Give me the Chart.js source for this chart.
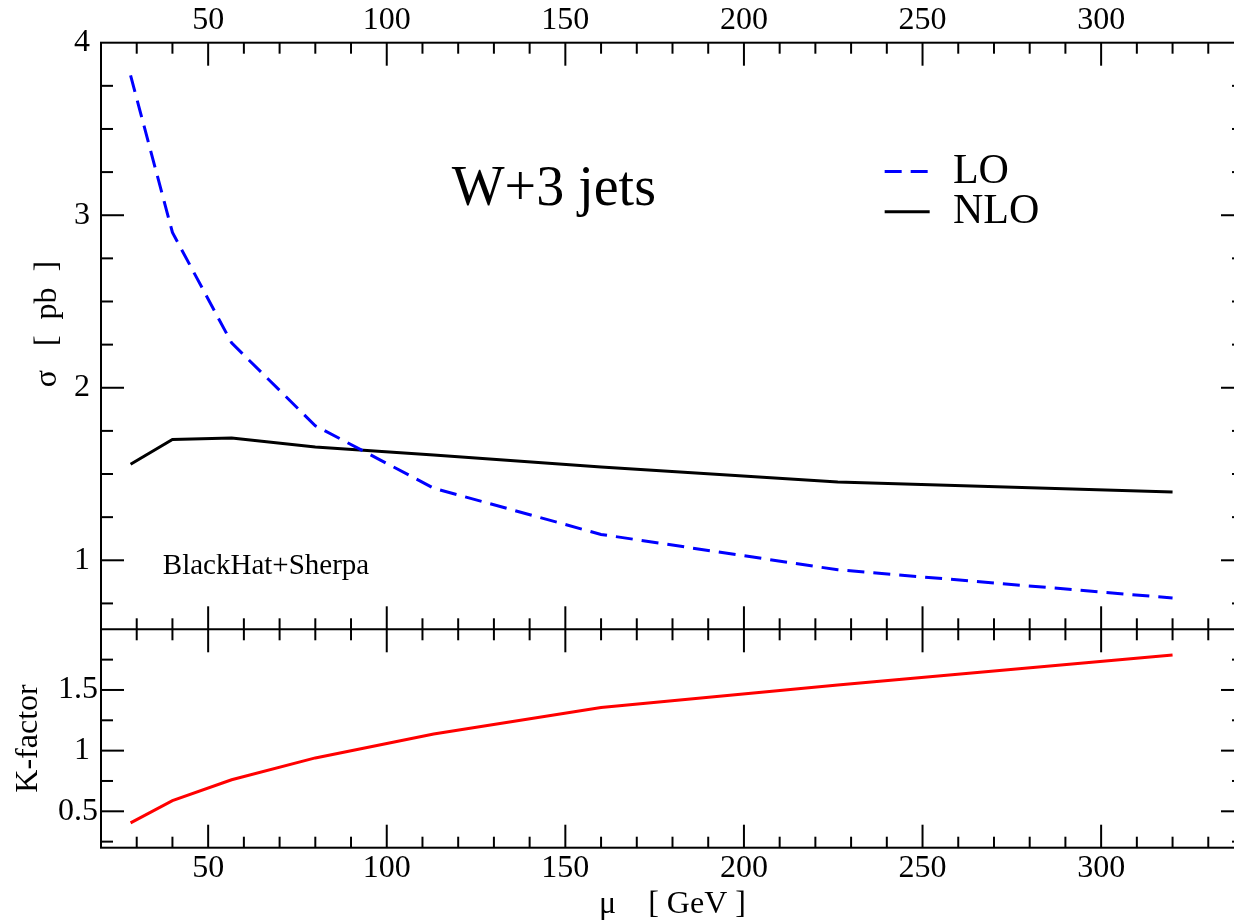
<!DOCTYPE html>
<html><head><meta charset="utf-8">
<script src="https://cdn.jsdelivr.net/npm/chart.js@4"></script>
<style>
html,body{margin:0;padding:0;overflow:hidden;background:#fff;width:1234px;height:924px}
#wrap{position:absolute;left:0;top:0;width:1260px;height:924px}
</style></head>
<body><div id="wrap"><canvas id="c" width="1260" height="924"></canvas></div>
<script>
// scale mu [GeV]
const mu = [28.28, 40, 56.57, 80, 113.14, 160, 226.27, 320];
const loValues = [3.81, 2.90, 2.26, 1.78, 1.418, 1.15, 0.945, 0.781];
const nloValues = [1.557, 1.70, 1.709, 1.657, 1.61, 1.541, 1.454, 1.396];
const kValues = [0.405, 0.588, 0.76, 0.94, 1.137, 1.356, 1.54, 1.788];
const xTicks = [50, 100, 150, 200, 250, 300];
const sigmaTicks = [1, 2, 3, 4];
const kTicks = [0.5, 1, 1.5];
const seriesLabels = ['LO', 'NLO'];

const F = "'Liberation Serif', 'Times New Roman', serif";
const X_MIN = 20, X_MAX = 340, X_MINOR = 10;
const Y_MIN = 0.6, Y_MAX = 4, K_MIN = 0.2, K_MAX = 2.0, Y_MINOR = 0.25;

function pts(ys){ return mu.map((m,i)=>({x:m, y:ys[i]})); }

const framePlugin = {
  id: 'frame',
  afterDatasetsDraw(chart){
    const {ctx, chartArea:a, scales} = chart;
    const x = scales.x, y = scales.y, k = scales.yK;
    const sep = y.bottom;
    ctx.save();
    ctx.strokeStyle = '#000'; ctx.lineWidth = 2; ctx.lineCap = 'butt';
    const L = (x1,y1,x2,y2)=>{ctx.beginPath();ctx.moveTo(x1,y1);ctx.lineTo(x2,y2);ctx.stroke();};
    ctx.strokeRect(a.left, a.top, a.right-a.left, a.bottom-a.top);
    L(a.left, sep, a.right, sep);
    // x ticks
    for (let v = X_MIN + X_MINOR; v < X_MAX; v += X_MINOR) {
      const px = x.getPixelForValue(v);
      const len = (v % 50 === 0) ? 23 : 11;
      L(px, a.top, px, a.top + len);
      L(px, sep - len, px, sep + len);
      L(px, a.bottom - len, px, a.bottom);
    }
    // y ticks top panel
    for (let v = 0.75; v < Y_MAX; v += Y_MINOR) {
      const py = y.getPixelForValue(v);
      const len = (Math.abs(v - Math.round(v)) < 1e-6) ? 23 : 12;
      L(a.left, py, a.left + len, py);
      L(a.right - len, py, a.right, py);
    }
    // y ticks bottom panel
    for (let v = 0.25; v < K_MAX; v += Y_MINOR) {
      const py = k.getPixelForValue(v);
      const len = (Math.abs(v*2 - Math.round(v*2)) < 1e-6) ? 23 : 12;
      L(a.left, py, a.left + len, py);
      L(a.right - len, py, a.right, py);
    }
    // legend
    const lx1 = x.getPixelForValue(239.4), lx2 = x.getPixelForValue(252), tx = x.getPixelForValue(258.5);
    const ly1 = y.getPixelForValue(3.253), ly2 = y.getPixelForValue(3.02);
    ctx.lineWidth = 3;
    ctx.strokeStyle = '#0000ff'; ctx.setLineDash([17, 9]); L(lx1, ly1, lx2, ly1);
    ctx.setLineDash([]); ctx.strokeStyle = '#000'; L(lx1, ly2, lx2, ly2);
    ctx.fillStyle = '#000';
    ctx.font = "42px " + F; ctx.textBaseline = 'middle'; ctx.textAlign = 'left';
    ctx.fillText(seriesLabels[0], tx, ly1);
    ctx.fillText(seriesLabels[1], tx, ly2);
    // annotations
    ctx.textBaseline = 'alphabetic';
    ctx.font = "56px " + F;
    ctx.fillText('W+3 jets', x.getPixelForValue(118.2), y.getPixelForValue(3.06));
    ctx.font = "29px " + F;
    ctx.fillText('BlackHat+Sherpa', x.getPixelForValue(37.3), y.getPixelForValue(0.92));
    ctx.restore();
  }
};

new Chart(document.getElementById('c'), {
  type: 'line',
  data: {
    datasets: [
      {label: seriesLabels[0], data: pts(loValues), borderColor: '#0000ff', borderWidth: 3, borderDash: [17, 9], pointRadius: 0, tension: 0, xAxisID: 'x', yAxisID: 'y'},
      {label: seriesLabels[1], data: pts(nloValues), borderColor: '#000000', borderWidth: 3, pointRadius: 0, tension: 0, xAxisID: 'x', yAxisID: 'y'},
      {label: 'K-factor', data: pts(kValues), borderColor: '#ff0000', borderWidth: 3, pointRadius: 0, tension: 0, xAxisID: 'x', yAxisID: 'yK'}
    ]
  },
  options: {
    responsive: false, animation: false, devicePixelRatio: 1,
    layout: {padding: {left: 0, right: 16, top: 0, bottom: 0}},
    plugins: {legend: {display: false}, tooltip: {enabled: false}},
    scales: {
      x: {
        type: 'linear', position: 'bottom', min: X_MIN, max: X_MAX,
        afterBuildTicks: s => { s.ticks = xTicks.map(v => ({value: v})); },
        afterFit: s => { s.height = 76.3; },
        grid: {display: false, drawTicks: false}, border: {display: false},
        ticks: {font: {family: F, size: 32}, color: '#000', padding: 2, maxRotation: 0, autoSkip: false},
        title: {display: true, text: 'μ    [ GeV ]', font: {family: F, size: 32}, color: '#000', padding: {top: 0, bottom: 0}}
      },
      xTop: {
        type: 'linear', position: 'top', min: X_MIN, max: X_MAX,
        afterBuildTicks: s => { s.ticks = xTicks.map(v => ({value: v})); },
        afterFit: s => { s.height = 42.7; },
        grid: {display: false, drawTicks: false}, border: {display: false},
        ticks: {font: {family: F, size: 32}, color: '#000', padding: 2.5, maxRotation: 0, autoSkip: false}
      },
      yK: {
        type: 'linear', position: 'left', stack: 'panels', stackWeight: 218.4, min: K_MIN, max: K_MAX,
        afterBuildTicks: s => { s.ticks = kTicks.map(v => ({value: v})); },
        afterFit: s => { s.width = 101; },
        grid: {display: false, drawTicks: false}, border: {display: false},
        ticks: {font: {family: F, size: 32}, color: '#000', padding: 3, callback: v => Number.isInteger(v) ? v + ' ' : String(v)},
        title: {display: true, text: 'K-factor', font: {family: F, size: 32}, color: '#000', padding: {top: 9, bottom: 0}}
      },
      y: {
        type: 'linear', position: 'left', stack: 'panels', stackWeight: 586.6, min: Y_MIN, max: Y_MAX,
        afterBuildTicks: s => { s.ticks = sigmaTicks.map(v => ({value: v})); },
        afterFit: s => { s.width = 101; },
        grid: {display: false, drawTicks: false}, border: {display: false},
        ticks: {font: {family: F, size: 32}, color: '#000', padding: 11},
        title: {display: true, text: '   σ   [  pb  ]', font: {family: F, size: 32}, color: '#000', padding: {top: 28, bottom: 0}}
      }
    }
  },
  plugins: [framePlugin]
});
</script>
</body></html>
